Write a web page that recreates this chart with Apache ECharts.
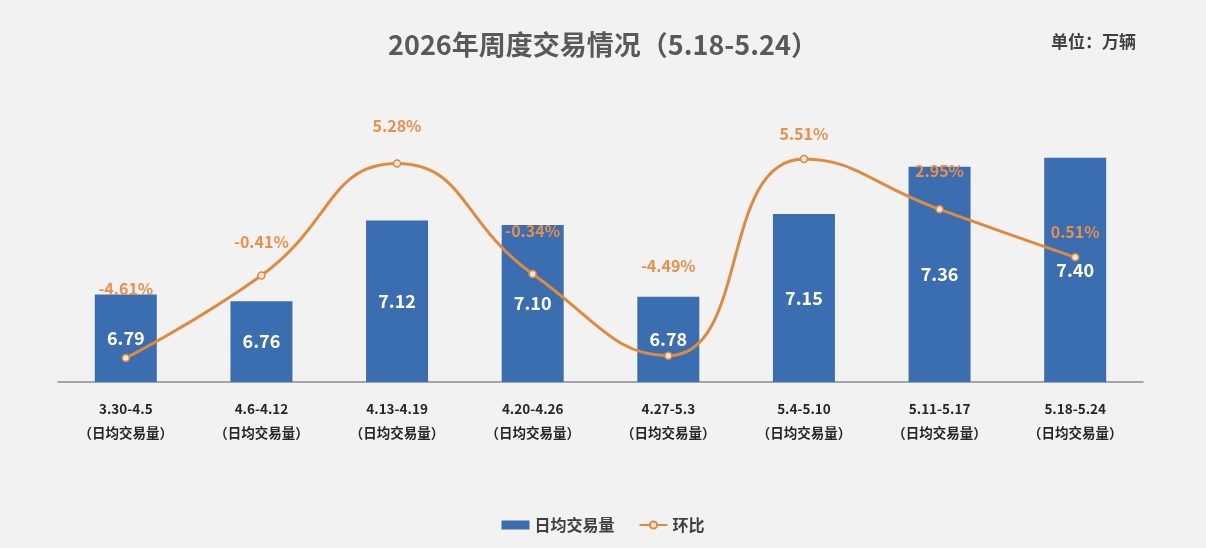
<!DOCTYPE html>
<html>
<head>
<meta charset="utf-8">
<title>2026年周度交易情况</title>
<script src="https://cdn.jsdelivr.net/npm/echarts@6/dist/echarts.min.js"></script>
<style>
  html, body { margin: 0; padding: 0; background: #f2f2f2; }
  #main { width: 1206px; height: 548px; }
</style>
</head>
<body>
<div id="main"></div>
<script>
// 周度区间
const weeks = ['3.30-4.5', '4.6-4.12', '4.13-4.19', '4.20-4.26', '4.27-5.3', '5.4-5.10', '5.11-5.17', '5.18-5.24']
// 日均交易量（万辆）
const dailyAvg = [6.79, 6.76, 7.12, 7.10, 6.78, 7.15, 7.36, 7.40]
// 环比（%）
const momPct = [-4.61, -0.41, 5.28, -0.34, -4.49, 5.51, 2.95, 0.51]

// label offsets for the % labels (the source placed them by hand)
const pctLabelDy = [-52, -16, -20, -26, -72, -8, -21, -8]

const font = 'Noto Sans CJK SC'
const blue = '#3b6db1'
const orange = '#e08a3e'

let chart = echarts.init(document.getElementById('main'))

chart.setOption({
  backgroundColor: '#f2f2f2',
  textStyle: { fontFamily: font },
  title: [{
    text: '2026年周度交易情况（5.18-5.24）',
    left: 'center',
    top: 26,
    textStyle: { fontSize: 27, fontWeight: 'bold', color: '#595959', fontFamily: font }
  }, {
    text: '单位：万辆',
    left: 1046,
    top: 28,
    textStyle: { fontSize: 17, fontWeight: 'bold', color: '#404040', fontFamily: font }
  }],
  legend: {
    bottom: 10,
    left: 'center',
    itemGap: 24,
    itemWidth: 28,
    itemHeight: 9,
    textStyle: { fontSize: 16, color: '#404040', fontWeight: 'bold', fontFamily: font },
    data: [
      { name: '日均交易量', icon: 'rect' },
      { name: '环比' }
    ]
  },
  grid: {
    left: 58,
    right: 63,
    top: 113,
    bottom: 166
  },
  xAxis: {
    type: 'category',
    data: weeks,
    axisTick: { show: false },
    axisLine: { onZero: false, lineStyle: { color: '#8c8c8c', width: 1.5 } },
    axisLabel: {
      interval: 0,
      margin: 15,
      lineHeight: 24,
      fontSize: 13.5,
      fontWeight: 'bold',
      color: '#262626',
      fontFamily: font,
      formatter: function (v) {
        return v + '\n（日均交易量）'
      }
    }
  },
  yAxis: [{
    type: 'value',
    min: 6.4,
    max: 7.6,
    show: false,
    splitLine: { show: false }
  }, {
    type: 'value',
    min: -5.83,
    max: 7.85,
    show: false,
    splitLine: { show: false }
  }],
  series: [{
    name: '日均交易量',
    type: 'bar',
    data: dailyAvg,
    barWidth: 62,
    itemStyle: { color: blue },
    label: {
      show: true,
      position: 'inside',
      color: '#ffffff',
      fontSize: 18,
      fontWeight: 'bold',
      fontFamily: font,
      formatter: function (p) {
        return p.value.toFixed(2)
      }
    },
    z: 2
  }, {
    name: '环比',
    type: 'line',
    yAxisIndex: 1,
    smooth: 0.5,
    data: momPct.map(function (v, i) {
      return { value: v, label: { offset: [0, pctLabelDy[i]] } }
    }),
    symbol: 'circle',
    symbolSize: 7,
    lineStyle: { color: orange, width: 3 },
    itemStyle: { color: '#f2e6da', borderColor: orange, borderWidth: 1.5 },
    label: {
      show: true,
      position: 'top',
      color: '#e8904a',
      fontSize: 16,
      fontWeight: 'bold',
      fontFamily: font,
      formatter: function (p) {
        return p.value.toFixed(2) + '%'
      }
    },
    z: 3
  }]
})
</script>
</body>
</html>
